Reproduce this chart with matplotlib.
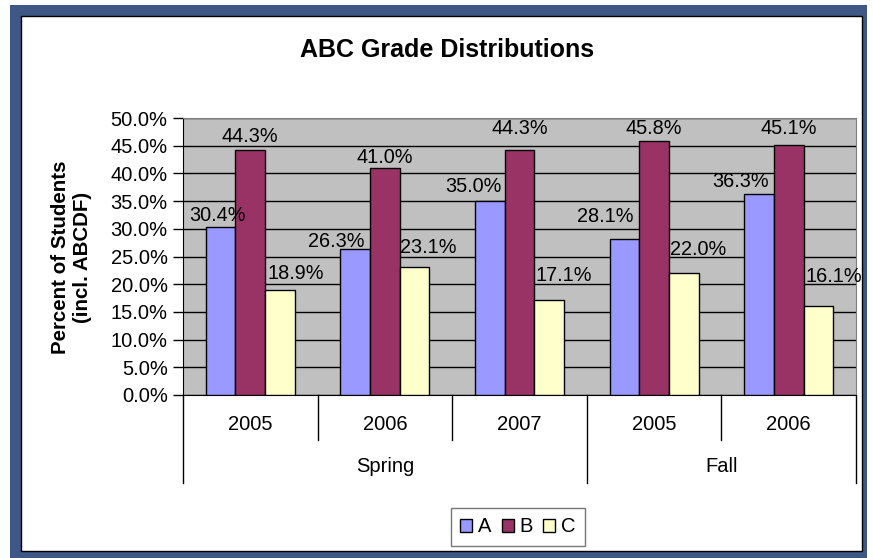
import numpy as np
import matplotlib
matplotlib.use('Agg')
import matplotlib.pyplot as plt
from matplotlib.patches import Rectangle
from matplotlib.transforms import blended_transform_factory

plt.rcParams['font.family'] = ['Liberation Sans', 'DejaVu Sans']

years = ['2005', '2006', '2007', '2005', '2006']
terms = ['Spring', 'Fall']
term_spans = [(0, 3), (3, 5)]  # category index ranges per term
grade_a = [30.4, 26.3, 35.0, 28.1, 36.3]
grade_b = [44.3, 41.0, 44.3, 45.8, 45.1]
grade_c = [18.9, 23.1, 17.1, 22.0, 16.1]
series = [('A', grade_a, '#9999FF'), ('B', grade_b, '#993366'), ('C', grade_c, '#FFFFCC')]

# label nudges (pixels): A labels hang off the bar's right edge, C labels start
# at the bar's left edge, B labels are centred
lab_dx = [[10, -6, -3, -6, -5], [0, 0, 0, 0, 0], [2, 0, 1, 1, 2]]
lab_dy = [[6, 2, 9, 17, 7], [8, 5, 16, 7, 11], [11, 14, 19, 18, 24]]

W, H = 873, 558
fig = plt.figure(figsize=(W / 100, H / 100), dpi=100)

# navy frame with white card inside
fig.patches.append(Rectangle((10 / W, 0), 857 / W, 553 / H, transform=fig.transFigure,
                             facecolor='#3F5787', edgecolor='none', zorder=-3))
fig.patches.append(Rectangle((21 / W, 7 / H), 841 / W, 535 / H, transform=fig.transFigure,
                             facecolor='white', edgecolor='black', linewidth=1, zorder=-2))

ax = fig.add_axes([183 / W, 1 - 395 / H, (856 - 183) / W, (395 - 118) / H])
ax.set_facecolor('#C0C0C0')

x = np.arange(len(years))
bw = 0.22
for i, (name, vals, col) in enumerate(series):
    pos = x + (i - 1) * bw
    ax.bar(pos, vals, bw, color=col, edgecolor='black', linewidth=1, label=name, zorder=3)
    for j, (px, v) in enumerate(zip(pos, vals)):
        if i == 0:
            ex, ha = px + bw / 2, 'right'
        elif i == 2:
            ex, ha = px - bw / 2, 'left'
        else:
            ex, ha = px, 'center'
        ax.annotate(f'{v:.1f}%', xy=(ex, v), xytext=(lab_dx[i][j], lab_dy[i][j]),
                    textcoords='offset pixels', ha=ha, va='baseline', fontsize=14.3, zorder=4)

ax.set_xlim(-0.5, len(years) - 0.5)
ax.set_ylim(0, 50)
ax.set_yticks(np.arange(0, 50.1, 5))
ax.set_yticklabels([f'{t:.1f}%' for t in np.arange(0, 50.1, 5)], fontsize=14.5)
ax.tick_params(axis='y', direction='out', length=7, width=1, color='black', pad=4)
ax.set_xticks([])
ax.grid(axis='y', color='black', linewidth=1, zorder=1)
ax.set_axisbelow(True)
for s in ['top', 'right']:
    ax.spines[s].set_color('#808080')
for s in ['left', 'bottom']:
    ax.spines[s].set_color('black')

# two-level category axis
tr = blended_transform_factory(ax.transData, ax.transAxes)
inner_y = -(440 - 395) / 277
outer_y = -(483 - 395) / 277
for i in range(len(years) + 1):
    b = i - 0.5
    outer = any(b == s - 0.5 or b == e - 0.5 for s, e in term_spans)
    ax.plot([b, b], [0, outer_y if outer else inner_y], color='black', lw=1,
            transform=tr, clip_on=False)
for i, yr in enumerate(years):
    ax.text(i, -(425 - 395) / 277, yr, ha='center', va='center', fontsize=14.5, transform=tr)
for t, (s, e) in zip(terms, term_spans):
    ax.text((s + e - 1) / 2, -(467 - 395) / 277, t, ha='center', va='center', fontsize=14.5, transform=tr)

fig.text(447 / W, 1 - 50 / H, 'ABC Grade Distributions', ha='center', va='center',
         fontsize=18, fontweight='bold')
fig.text(71 / W, 1 - 257 / H, 'Percent of Students\n(incl. ABCDF)', ha='center', va='center',
         rotation=90, fontsize=14.8, fontweight='bold', linespacing=1.2)

leg = fig.legend(loc='center', bbox_to_anchor=(518 / W, 1 - 527 / H), ncol=3, fontsize=14.5,
                 frameon=True, fancybox=False, edgecolor='#555555', handlelength=0.6,
                 handleheight=0.6, handletextpad=0.3, columnspacing=0.5, borderpad=0.45)
leg.get_frame().set_linewidth(1)

fig.savefig('out.png', dpi=100)
